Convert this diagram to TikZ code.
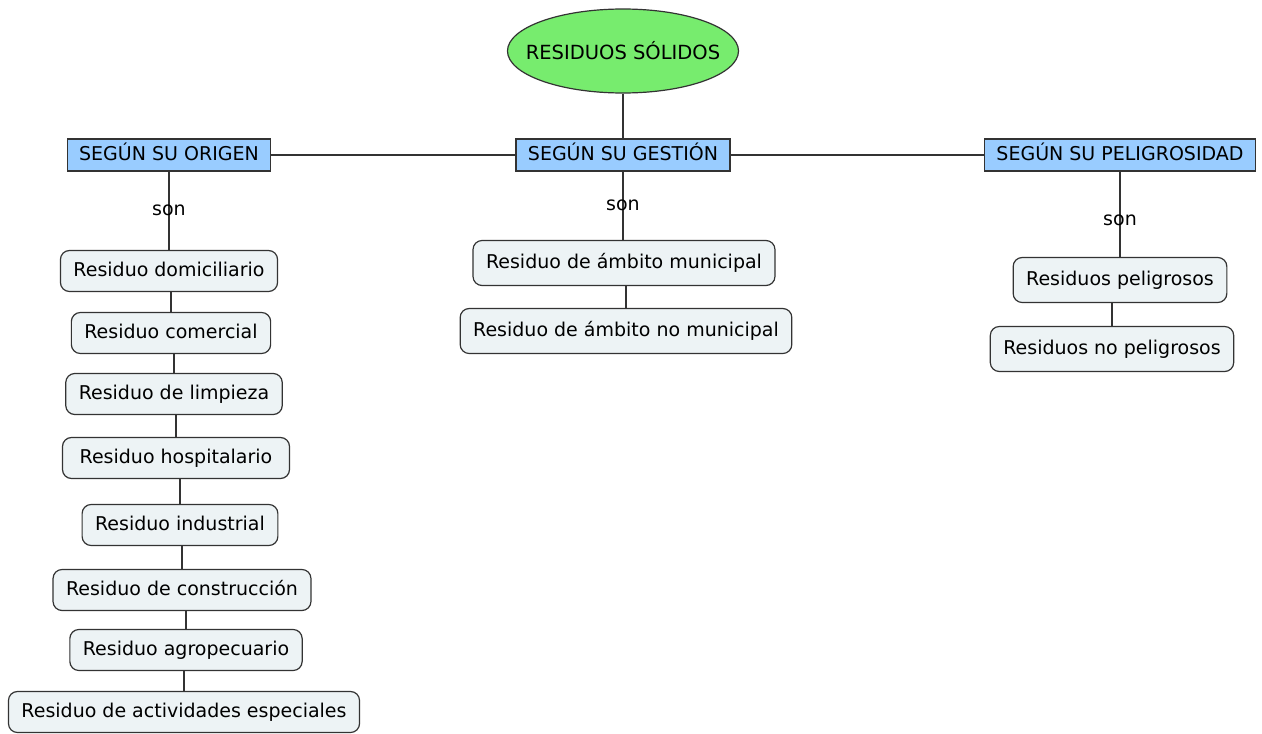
\documentclass[tikz,border=0pt]{standalone}
\usepackage{fontspec}
\setmainfont{DejaVu Sans}
\usetikzlibrary{shapes.geometric}
\definecolor{verde}{RGB}{119,236,110}
\definecolor{azul}{RGB}{153,204,255}
\definecolor{gris}{RGB}{237,243,245}
\tikzset{
  solido/.style={ellipse,draw=black!80,fill=verde,line width=1.2pt,minimum width=231pt,minimum height=84pt,inner xsep=-20pt,inner ysep=0pt,font=\fontsize{19.5}{23}\selectfont},
  criterio/.style={draw=black!80,fill=azul,line width=1.2pt,minimum height=32pt,inner xsep=12pt,inner ysep=0pt,text height=14.5pt,text depth=4pt},
  concepto/.style={draw=black!80,fill=gris,rounded corners=9pt,line width=1.2pt,minimum height=41pt,inner xsep=13pt,inner ysep=0pt,text height=14.5pt,text depth=4.5pt},
  union/.style={line width=1.3pt,draw=black!80}
}
\begin{document}
\begin{tikzpicture}[x=1pt,y=-1pt,font=\fontsize{19}{23}\selectfont]
\useasboundingbox (0,0) rectangle (1262,734);

\node [solido] (sol) at (623,51) {RESIDUOS SÓLIDOS};
\node [criterio] (orig) at (169,155) {SEGÚN SU ORIGEN};
\node [criterio] (gest) at (623,155) {SEGÚN SU GESTIÓN};
\node [criterio] (pel) at (1120,155) {SEGÚN SU PELIGROSIDAD};

\node [concepto] (dom) at (169,271) {Residuo domiciliario};
\node [concepto] (com) at (171,333) {Residuo comercial};
\node [concepto] (lim) at (174,394) {Residuo de limpieza};
\node [concepto,minimum width=227pt] (hos) at (176,458) {Residuo hospitalario};
\node [concepto] (ind) at (180,525) {Residuo industrial};
\node [concepto] (con) at (182,590) {Residuo de construcción};
\node [concepto] (agr) at (186,650) {Residuo agropecuario};
\node [concepto] (act) at (184,712) {Residuo de actividades especiales};

\node [concepto,minimum height=45pt] (mun) at (624,263) {Residuo de ámbito municipal};
\node [concepto,minimum height=45pt] (nmun) at (626,331) {Residuo de ámbito no municipal};

\node [concepto,minimum height=45pt] (pelg) at (1120,280) {Residuos peligrosos};
\node [concepto,minimum height=45pt] (npel) at (1112,349) {Residuos no peligrosos};

\draw [union] (sol) -- (gest);
\draw [union] (orig) -- (gest) -- (pel);

\draw [union] (orig) -- node {son} (dom);
\draw [union] (com.north) -- (com.north |- dom.south);
\draw [union] (lim.north) -- (lim.north |- com.south);
\draw [union] (hos.north) -- (hos.north |- lim.south);
\draw [union] (ind.north) -- (ind.north |- hos.south);
\draw [union] (con.north) -- (con.north |- ind.south);
\draw [union] (agr.north) -- (agr.north |- con.south);
\draw [union] (act.north) -- (act.north |- agr.south);

\draw [union] (gest) -- node {son} (gest |- mun.north);
\draw [union] (nmun.north) -- (nmun.north |- mun.south);

\draw [union] (pel) -- node [pos=.57] {son} (pelg);
\draw [union] (npel.north) -- (npel.north |- pelg.south);

\end{tikzpicture}
\end{document}
